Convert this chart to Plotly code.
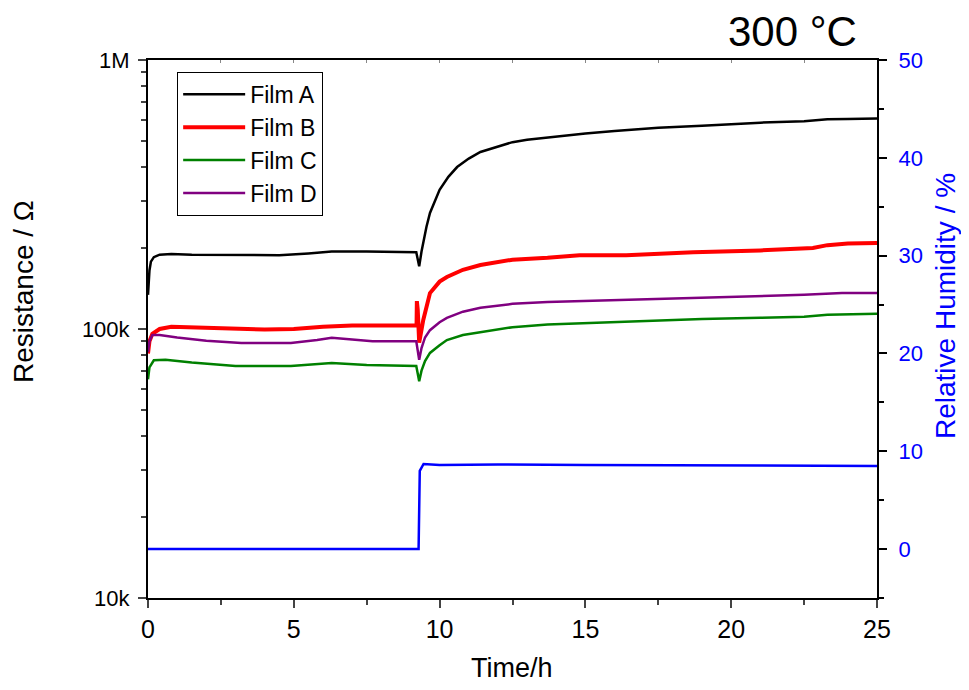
import plotly.graph_objects as go

# ---------------- data ----------------
t_a = [0, 0.05, 0.1, 0.2, 0.4, 0.8, 1.5, 3, 4.5, 5.5, 6.3, 7.5, 9.0, 9.2, 9.3, 9.38, 9.55, 9.67,
       10.0, 10.3, 10.6, 11.0, 11.4, 12.0, 12.5, 13.0, 14.0, 15.0, 16.0, 17.5, 19.0, 21.0, 22.5,
       23.3, 24.0, 25.0]
r_a = [134e3, 165e3, 178e3, 185e3, 189e3, 190e3, 189e3, 188e3, 188e3, 191e3, 194e3, 194e3,
       193e3, 193e3, 171e3, 194e3, 240e3, 270e3, 329e3, 368e3, 400e3, 430e3, 455e3, 478e3,
       495e3, 505e3, 520e3, 533e3, 545e3, 560e3, 570e3, 585e3, 592e3, 602e3, 604e3, 606e3]

t_b = [0, 0.05, 0.15, 0.4, 0.8, 1.5, 2.5, 4.0, 5.0, 6.0, 7.0, 9.2, 9.21, 9.22, 9.25, 9.3, 9.35,
       9.44, 9.67, 10.0, 10.25, 10.8, 11.4, 12.5, 13.7, 14.8, 16.4, 18.7, 21.0, 22.2, 22.8, 23.3,
       24.0, 25.0]
r_b = [81e3, 90e3, 96e3, 100e3, 102e3, 101.5e3, 100e3, 99.5e3, 100e3, 102e3, 103e3, 103e3,
       103e3, 127e3, 118e3, 89e3, 96e3, 108e3, 136e3, 150e3, 156e3, 166e3, 173e3, 181e3,
       184e3, 188e3, 188e3, 193e3, 196e3, 198e3, 200e3, 205e3, 208e3, 209e3]

t_c = [0, 0.05, 0.2, 0.6, 1.5, 3.0, 4.9, 6.3, 7.5, 9.2, 9.3, 9.38, 9.5, 9.67, 10.0, 10.25, 10.8,
       11.4, 12.5, 13.7, 14.8, 16.0, 17.56, 19.0, 21.0, 22.5, 23.3, 24.0, 25.0]
r_c = [65e3, 72e3, 76.5e3, 76.8e3, 75e3, 72.8e3, 72.8e3, 74.8e3, 73.5e3, 72.8e3, 64e3, 70e3,
       76e3, 81.5e3, 87e3, 91e3, 95e3, 97.5e3, 101.6e3, 104e3, 105e3, 106e3, 108e3, 109e3,
       110e3, 111e3, 113e3, 113.5e3, 114e3]

t_d = [0, 0.05, 0.15, 0.4, 1.0, 2.0, 3.2, 4.9, 5.8, 6.3, 7.0, 7.7, 9.2, 9.25, 9.3, 9.38, 9.5,
       9.67, 10.0, 10.25, 10.8, 11.4, 12.5, 13.7, 14.8, 16.0, 17.56, 19.0, 21.0, 22.5, 23.8, 25.0]
r_d = [82e3, 90e3, 95e3, 95e3, 93e3, 90.5e3, 88.7e3, 88.7e3, 91e3, 92.8e3, 91.5e3, 90e3, 90e3,
       82e3, 76.8e3, 85e3, 93e3, 99e3, 106e3, 110e3, 116e3, 120e3, 124e3, 126e3, 127e3, 128e3,
       129e3, 131e3, 133e3, 134e3, 136e3, 136e3]

t_rh = [0, 9.28, 9.32, 9.45, 10.0, 12.0, 15.0, 18.0, 21.0, 25.0]
rh = [0, 0, 8.0, 8.7, 8.6, 8.65, 8.6, 8.6, 8.55, 8.5]

x_ticks = [0, 5, 10, 15, 20, 25]
r_tickvals = [1e4, 1e5, 1e6]
r_ticktext = ["10k", "100k", "1M"]
rh_ticks = [0, 10, 20, 30, 40, 50]

FONT = "Liberation Sans, Arial, sans-serif"

fig = go.Figure()
fig.add_trace(go.Scatter(x=t_rh, y=rh, mode="lines", line=dict(color="#0000ff", width=2.5),
                         yaxis="y2", showlegend=False, name="RH"))
fig.add_trace(go.Scatter(x=t_a, y=r_a, mode="lines", name="Film A", line=dict(color="black", width=2.5)))
fig.add_trace(go.Scatter(x=t_b, y=r_b, mode="lines", name="Film B", line=dict(color="#ff0000", width=4)))
fig.add_trace(go.Scatter(x=t_c, y=r_c, mode="lines", name="Film C", line=dict(color="#008000", width=2.5)))
fig.add_trace(go.Scatter(x=t_d, y=r_d, mode="lines", name="Film D", line=dict(color="#800080", width=2.5)))
fig.add_trace(go.Scatter(x=[None], y=[None], xaxis="x2", showlegend=False, hoverinfo="skip"))

minor_r = [m * 10 ** e for e in (4, 5) for m in range(2, 10)]

# page body has an 8 px margin; keep the figure inside the 969x690 window
W, H = 953, 674
PW, PH, L, T = 729, 538, 140, 52


def px(xp):
    return (xp - 8 - L) / PW


def py(yp):
    return (T + PH - (yp - 8)) / PH


fig.update_layout(
    width=W, height=H,
    margin=dict(l=L, r=W - L - PW, t=T, b=H - T - PH),
    plot_bgcolor="white", paper_bgcolor="white",
    font=dict(family=FONT, color="black"),
    showlegend=True,
    legend=dict(x=0.04, y=0.978, xanchor="left", yanchor="top",
                bordercolor="black", borderwidth=1, bgcolor="white",
                font=dict(size=23, family=FONT), itemwidth=62,
                tracegroupgap=0),
    xaxis=dict(range=[0, 25], tickvals=x_ticks, ticks="outside", ticklen=8, tickwidth=2,
               showline=True, linecolor="black", linewidth=2, showgrid=False, zeroline=False,
               tickfont=dict(size=25),
               minor=dict(dtick=2.5, ticks="outside", ticklen=5, tickwidth=2, showgrid=False),
               automargin=False),
    xaxis2=dict(range=[0, 25], overlaying="x", side="top", dtick=2.5, ticks="inside", ticklen=3,
                tickcolor="#888", showticklabels=False, showline=True, linecolor="black",
                linewidth=2, showgrid=False, zeroline=False, anchor="y"),
    yaxis=dict(type="log", range=[4, 6], tickvals=r_tickvals, ticktext=r_ticktext,
               ticks="outside", ticklen=8, tickwidth=2, showline=True, linecolor="black",
               linewidth=2, showgrid=False, zeroline=False, tickfont=dict(size=22),
               ticklabelstandoff=4, automargin=False,
               minor=dict(tickvals=minor_r, ticks="outside", ticklen=5, tickwidth=2, showgrid=False)),
    yaxis2=dict(range=[-5, 50], tickvals=rh_ticks, overlaying="y", side="right",
                ticks="outside", ticklen=8, tickwidth=2, tickcolor="black",
                showline=True, linecolor="black", linewidth=2, showgrid=False, zeroline=False,
                tickfont=dict(size=22, color="#0000ff"), ticklabelstandoff=7, automargin=False,
                minor=dict(dtick=10, tick0=5, ticks="outside", ticklen=5, tickwidth=2, showgrid=False)),
    annotations=[
        dict(text="300 °C", x=px(792), y=py(31), xref="paper", yref="paper", showarrow=False,
             xanchor="center", yanchor="middle", font=dict(size=42, color="black")),
        dict(text="Resistance / Ω", x=px(23), y=py(292), xref="paper", yref="paper",
             showarrow=False, textangle=-90, xanchor="center", yanchor="middle",
             font=dict(size=28, color="black")),
        dict(text="Relative Humidity / %", x=px(945), y=py(306), xref="paper", yref="paper",
             showarrow=False, textangle=-90, xanchor="center", yanchor="middle",
             font=dict(size=28, color="#0000ff")),
        dict(text="Time/h", x=px(512), y=py(668), xref="paper", yref="paper",
             showarrow=False, xanchor="center", yanchor="middle",
             font=dict(size=27, color="black")),
    ],
)

fig.write_html("out.html")
